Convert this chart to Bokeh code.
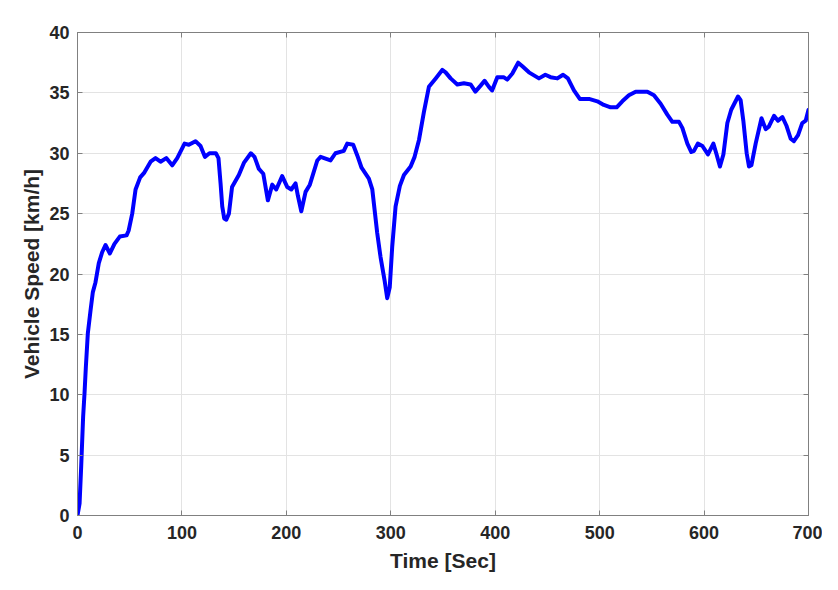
from bokeh.plotting import figure
from bokeh.models import LinearAxis, Range1d, FixedTicker
from bokeh.embed import file_html
from bokeh.resources import INLINE

time_sec = [0, 2, 3.5, 5.4, 6.7, 8, 9.9, 12.5, 14.7, 17.2, 20.4, 23.6, 26.8, 31, 35.4, 40.5, 47, 49, 52.4, 55.6,
            60, 64, 70, 74.7, 79.5, 85, 90.7, 95.5, 102.5, 106.6, 113, 117.8, 122, 126.4, 132.5, 135, 137, 138.6,
            140.5, 142.5, 145, 148, 154.5, 159.3, 166, 169.5, 173.7, 177.9, 182.3, 186.5, 190.3, 196, 200.9,
            204.7, 208.8, 211, 214.3, 218.4, 222.5, 229.6, 232.8, 242.3, 247, 255, 258.3, 264, 268, 272, 279,
            282.3, 287, 290.2, 294, 296.6, 299, 301.4, 304.6, 308.7, 312.6, 319, 322.8, 327, 331.7, 336.5, 343,
            349.3, 352.5, 357.3, 363.7, 370, 376.4, 381, 386, 389.8, 394, 397, 402, 408, 411.6, 416.4, 422, 426,
            432.3, 441.9, 448, 453, 459.5, 465, 469.6, 475.4, 481, 489.8, 497.8, 504, 510.5, 516.3, 521.7, 528,
            534.5, 545.7, 552, 558.4, 564.8, 569.6, 576, 579.2, 584, 587.8, 590.3, 594, 598.4, 603.7, 608.9, 612,
            615.2, 618.5, 622.3, 626, 632.5, 635, 637.6, 640.8, 643, 645.3, 649.4, 655, 659, 662, 667, 670.8, 675,
            678.8, 683, 686, 690, 694, 697.3, 700]
speed_kmh = [0, 1.0, 4.0, 8.2, 10.1, 12.3, 15.1, 17.0, 18.5, 19.3, 20.9, 21.8, 22.4, 21.7, 22.5, 23.1, 23.2, 23.6,
             25.0, 27.0, 28.0, 28.4, 29.3, 29.6, 29.3, 29.6, 29.0, 29.6, 30.8, 30.7, 31.0, 30.6, 29.7, 30.0, 30.0,
             29.6, 27.5, 25.6, 24.6, 24.5, 25.0, 27.2, 28.2, 29.2, 30.0, 29.7, 28.7, 28.3, 26.1, 27.4, 27.0, 28.1,
             27.2, 27.0, 27.5, 26.5, 25.2, 26.8, 27.4, 29.4, 29.7, 29.4, 30.0, 30.2, 30.8, 30.7, 29.8, 28.8, 27.9,
             27.0, 23.4, 21.4, 19.5, 18.0, 18.9, 22.3, 25.6, 27.3, 28.2, 28.9, 29.7, 31.1, 33.4, 35.5, 36.2, 36.9,
             36.7, 36.2, 35.7, 35.8, 35.7, 35.1, 35.6, 36.0, 35.5, 35.2, 36.3, 36.3, 36.1, 36.6, 37.5, 37.2, 36.7,
             36.2, 36.5, 36.3, 36.2, 36.5, 36.2, 35.2, 34.5, 34.5, 34.3, 34.0, 33.8, 33.8, 34.3, 34.8, 35.1, 35.1,
             34.8, 34.1, 33.2, 32.6, 32.6, 32.1, 30.8, 30.1, 30.2, 30.8, 30.6, 29.9, 30.8, 29.9, 28.9, 29.9, 32.5,
             33.6, 34.7, 34.4, 32.7, 30.0, 28.9, 29.0, 30.8, 32.9, 32.0, 32.2, 33.1, 32.7, 33.0, 32.3, 31.2, 31.0,
             31.5, 32.5, 32.7, 33.6]

x_ticks = [0, 100, 200, 300, 400, 500, 600, 700]
y_ticks = [0, 5, 10, 15, 20, 25, 30, 35, 40]

FONT = "Liberation Sans"
TEXT_COLOR = "#262626"
AXIS_COLOR = "#808080"

p = figure(width=822, height=574, output_backend="svg", toolbar_location=None,
           x_range=Range1d(0, 700), y_range=Range1d(0, 40),
           min_border_left=77, min_border_right=14, min_border_top=32, min_border_bottom=58)

p.line(time_sec, speed_kmh, line_color="#0000FF", line_width=4, line_join="round", line_cap="round")

p.outline_line_color = AXIS_COLOR
p.outline_line_width = 1
p.background_fill_color = "white"

for ax in (p.xaxis[0], p.yaxis[0]):
    ax.major_tick_in = 5
    ax.major_tick_out = 0
    ax.minor_tick_in = 0
    ax.minor_tick_out = 0
    ax.axis_line_color = AXIS_COLOR
    ax.major_tick_line_color = AXIS_COLOR
    ax.major_label_text_font = FONT
    ax.major_label_text_font_style = "bold"
    ax.major_label_text_font_size = "18px"
    ax.major_label_text_color = TEXT_COLOR
    ax.axis_label_text_font = FONT
    ax.axis_label_text_font_style = "bold"
    ax.axis_label_text_font_size = "21px"
    ax.axis_label_text_color = TEXT_COLOR

p.xaxis[0].ticker = FixedTicker(ticks=x_ticks)
p.yaxis[0].ticker = FixedTicker(ticks=y_ticks)
p.xaxis[0].axis_label = "Time [Sec]"
p.yaxis[0].axis_label = "Vehicle Speed [km/h]"
p.xaxis[0].major_label_standoff = 10
p.yaxis[0].major_label_standoff = 8
p.xaxis[0].axis_label_standoff = 7
p.yaxis[0].axis_label_standoff = 3

p.xgrid.ticker = FixedTicker(ticks=x_ticks)
p.ygrid.ticker = FixedTicker(ticks=y_ticks)
p.xgrid.grid_line_color = "#e3e3e3"
p.ygrid.grid_line_color = "#e3e3e3"

top_ax = LinearAxis(ticker=FixedTicker(ticks=x_ticks),
                    major_label_overrides={t: "" for t in x_ticks},
                    major_tick_in=5, major_tick_out=0, minor_tick_in=0, minor_tick_out=0,
                    axis_line_color=AXIS_COLOR, major_tick_line_color=AXIS_COLOR, major_label_standoff=0)
right_ax = LinearAxis(ticker=FixedTicker(ticks=y_ticks),
                      major_label_overrides={t: "" for t in y_ticks},
                      major_tick_in=5, major_tick_out=0, minor_tick_in=0, minor_tick_out=0,
                      axis_line_color=AXIS_COLOR, major_tick_line_color=AXIS_COLOR, major_label_standoff=0)
p.add_layout(top_ax, "above")
p.add_layout(right_ax, "right")

open("out.html", "w").write(file_html(p, INLINE))
